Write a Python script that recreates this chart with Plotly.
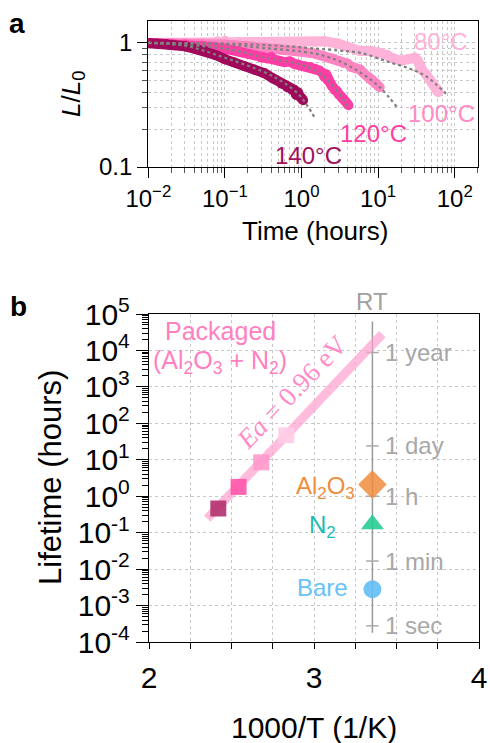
import plotly.graph_objects as go
import math

W, H = 490, 743

# ---------------- Panel a data ----------------
t140 = [0.01, 0.013, 0.017, 0.022, 0.03, 0.04, 0.055, 0.075, 0.1, 0.13, 0.18, 0.24, 0.33, 0.42, 0.55, 0.65, 0.75, 0.8, 0.85, 0.9, 0.95, 1.0, 1.05]
L140 = [1.0, 0.99, 0.98, 0.96, 0.94, 0.9, 0.86, 0.8, 0.74, 0.7, 0.65, 0.61, 0.57, 0.52, 0.47, 0.44, 0.42, 0.42, 0.38, 0.4, 0.37, 0.36, 0.345]

t120 = [0.01, 0.015, 0.02, 0.03, 0.05, 0.07, 0.1, 0.15, 0.2, 0.3, 0.35, 0.4, 0.5, 0.6, 0.7, 0.8, 0.9, 1.1, 1.3, 1.5, 1.7, 1.9, 2.0, 2.1, 2.2, 2.4, 2.5, 2.7, 2.9, 3.1, 3.4, 3.7, 4.1]
L120 = [1.0, 0.99, 0.98, 0.97, 0.95, 0.93, 0.9, 0.86, 0.82, 0.76, 0.75, 0.77, 0.72, 0.7, 0.71, 0.68, 0.67, 0.65, 0.64, 0.62, 0.6, 0.57, 0.53, 0.56, 0.5, 0.47, 0.45, 0.42, 0.41, 0.38, 0.36, 0.34, 0.315]

t100 = [0.01, 0.02, 0.03, 0.05, 0.1, 0.2, 0.33, 0.5, 0.8, 1.0, 1.5, 2.0, 2.5, 3.0, 3.5, 4.0, 4.5, 5.0, 5.8, 6.5, 7.5, 8.5, 9.5, 10.5]
L100 = [1.0, 1.0, 0.99, 0.99, 0.97, 0.94, 0.92, 0.9, 0.87, 0.85, 0.82, 0.78, 0.75, 0.72, 0.69, 0.68, 0.64, 0.63, 0.61, 0.57, 0.53, 0.5, 0.47, 0.44]

t80 = [0.01, 0.02, 0.05, 0.08, 0.1, 0.15, 0.2, 0.3, 0.5, 1, 1.5, 2, 3, 4, 5.8, 8, 10, 13, 15.7, 20, 25, 30, 33, 35, 38, 43, 48, 53, 58, 61]
L80 = [1.0, 1.0, 1.0, 1.03, 1.04, 1.02, 1.01, 1.01, 1.0, 1.0, 1.02, 1.03, 0.99, 0.93, 0.86, 0.86, 0.84, 0.8, 0.75, 0.72, 0.74, 0.76, 0.72, 0.64, 0.6, 0.55, 0.5, 0.47, 0.43, 0.4]

# stretched-exponential fits (gray dotted)
fit140_t = [0.01, 0.03, 0.1, 0.33, 0.55, 0.9, 1.2, 1.5]
fit140_L = [1.0, 0.95, 0.76, 0.58, 0.49, 0.39, 0.31, 0.247]
fit120_t = [0.01, 0.1, 0.33, 0.9, 1.5, 2.0, 2.5, 3.3, 4.3]
fit120_L = [1.0, 0.9, 0.76, 0.68, 0.6, 0.53, 0.46, 0.37, 0.29]
fit100_t = [0.01, 0.1, 0.33, 1.5, 3, 5.8, 10.5, 17.5]
fit100_L = [1.0, 0.97, 0.91, 0.82, 0.72, 0.58, 0.44, 0.306]
fit80_t = [0.01, 0.1, 0.5, 1, 3, 6, 13, 26, 43, 80]
fit80_L = [1.0, 0.99, 0.95, 0.92, 0.87, 0.83, 0.71, 0.62, 0.535, 0.38]

temps_a = ["80°C", "100°C", "120°C", "140°C"]
colors_a = ["#FFB3D9", "#FF85C2", "#FF3EA5", "#A00A5A"]
label_colors_a = ["#FFB3D9", "#FF8CC6", "#FF3EA5", "#A3105E"]

# ---------------- Panel b data ----------------
inv_T = [2.420, 2.543, 2.680, 2.832]          # 1000/T for 140,120,100,80 °C
lifetime = [0.46, 1.8, 8.5, 47]
sq_colors = ["#B3306F", "#FF55AA", "#FF99CC", "#FFCCE6"]
fit_x = [2.353, 3.414]
fit_y = [0.245, 2.8e4]

rt_x = 3.354
rt_line_y = [6.2e4, 1.8e-4]
al2o3_y = 2.1
n2_y = 0.17
bare_y = 0.0028

time_labels = ["1 year", "1 day", "1 h", "1 min", "1 sec"]
time_hours = [8760, 24, 1, 1 / 60, 1 / 3600]

ytick_vals_b = [1e-4, 1e-3, 1e-2, 1e-1, 1, 10, 100, 1e3, 1e4, 1e5]
ytick_text_b = ["10<sup>-4</sup>", "10<sup>-3</sup>", "10<sup>-2</sup>", "10<sup>-1</sup>", "10<sup>0</sup>",
                "10<sup>1</sup>", "10<sup>2</sup>", "10<sup>3</sup>", "10<sup>4</sup>", "10<sup>5</sup>"]
xtick_vals_a = [0.01, 0.1, 1, 10, 100]
xtick_text_a = ["10<sup>−2</sup>", "10<sup>−1</sup>", "10<sup>0</sup>", "10<sup>1</sup>", "10<sup>2</sup>"]

FONT = "Liberation Sans, Arial, sans-serif"
GRID = "#c8c8c8"

fig = go.Figure()

# panel a curves
for t, L, c in [(t80, L80, colors_a[0]), (t100, L100, colors_a[1]), (t120, L120, colors_a[2]), (t140, L140, colors_a[3])]:
    fig.add_trace(go.Scatter(x=t, y=L, mode="lines+markers", line=dict(color=c, width=10),
                             marker=dict(color=c, size=10), xaxis="x", yaxis="y", showlegend=False))
for t, L in [(fit80_t, fit80_L), (fit100_t, fit100_L), (fit120_t, fit120_L), (fit140_t, fit140_L)]:
    fig.add_trace(go.Scatter(x=t, y=L, mode="lines", line=dict(color="#808080", width=2.2, dash="dot", shape="spline"),
                             xaxis="x", yaxis="y", showlegend=False))

# panel b
fig.add_trace(go.Scatter(x=[rt_x, rt_x], y=rt_line_y, mode="lines", line=dict(color="#9a9a9a", width=1.5),
                         xaxis="x2", yaxis="y2", showlegend=False))
fig.add_trace(go.Scatter(x=[rt_x] * len(time_hours), y=time_hours, mode="markers",
                         marker=dict(symbol="line-ew", size=9, line=dict(color="#aaaaaa", width=1.5)),
                         xaxis="x2", yaxis="y2", showlegend=False))
fig.add_trace(go.Scatter(x=fit_x, y=fit_y, mode="lines", line=dict(color="rgba(255,160,205,0.7)", width=9),
                         xaxis="x2", yaxis="y2", showlegend=False))
fig.add_trace(go.Scatter(x=inv_T, y=lifetime, mode="markers",
                         marker=dict(symbol="square", size=16, color=sq_colors, opacity=0.9),
                         xaxis="x2", yaxis="y2", showlegend=False))
fig.add_trace(go.Scatter(x=[rt_x], y=[al2o3_y], mode="markers",
                         marker=dict(symbol="diamond", size=22, color="rgba(240,140,60,0.85)"),
                         xaxis="x2", yaxis="y2", showlegend=False))
fig.add_trace(go.Scatter(x=[rt_x], y=[n2_y], mode="markers",
                         marker=dict(symbol="triangle-up", size=20, color="rgba(40,205,145,0.9)"),
                         xaxis="x2", yaxis="y2", showlegend=False))
fig.add_trace(go.Scatter(x=[rt_x], y=[bare_y], mode="markers",
                         marker=dict(symbol="circle", size=18, color="rgba(100,190,245,0.9)"),
                         xaxis="x2", yaxis="y2", showlegend=False))


def P(xp, yp):
    return xp / W, 1 - yp / H


ann = []


def text(s, xp, yp, size, color="black", angle=0, xanchor="center", yanchor="middle", family=FONT):
    x, y = P(xp, yp)
    ann.append(dict(text=s, x=x, y=y, xref="paper", yref="paper", showarrow=False, textangle=angle,
                    xanchor=xanchor, yanchor=yanchor, font=dict(size=size, color=color, family=family)))


text("<b>a</b>", 17, 24, 28)
text("<b>b</b>", 18, 306, 28)
text("<i>L</i>/<i>L</i><sub>0</sub>", 72, 94, 26, angle=-90)
text("Time (hours)", 315, 231, 26)
text("1000/T (1/K)", 314, 727, 30)
text("Lifetime (hours)", 50, 478, 31, angle=-90)

pos_a = [(441, 42), (441, 113), (373, 133), (308, 155)]
for s, (xp, yp), c in zip(temps_a, pos_a, label_colors_a):
    text(s, xp, yp, 24, color=c)

text("Packaged", 220, 331, 25, color="#FF7FC0")
text("(Al<sub>2</sub>O<sub>3</sub> + N<sub>2</sub>)", 220, 362, 25, color="#FF7FC0")
text("<i>Ea</i> = 0.96 eV", 292, 392, 27, color="#FF8CC8", angle=-46, family="Liberation Serif, DejaVu Serif, serif")
text("RT", 372, 302, 24, color="#a0a0a0")
text("Al<sub>2</sub>O<sub>3</sub>", 357, 487, 24, color="#F08C3C", xanchor="right")
text("N<sub>2</sub>", 338, 526, 24, color="#1ABDB5", xanchor="right")
text("Bare", 350, 587, 24, color="#66C2F7", xanchor="right")

for lab, hv in zip(time_labels, time_hours):
    yp = 314 + (5 - math.log10(hv)) * (642 - 314) / 9
    text(lab, 383, yp, 24, color="#a8a8a8", xanchor="left")

fig.update_layout(annotations=ann)

axis_common = dict(showline=True, linecolor="black", linewidth=1.4, mirror=True, ticks="outside",
                   tickcolor="black", tickwidth=1.2, zeroline=False, color="black", automargin=False)

fig.update_layout(
    width=W, height=H, margin=dict(l=0, r=0, t=0, b=0),
    paper_bgcolor="white", plot_bgcolor="white",
    font=dict(family=FONT, color="black"),
    xaxis=dict(axis_common, type="log", range=[-2, 2.304], domain=[148.3 / W, 478 / W], anchor="y",
               tickmode="array", tickvals=xtick_vals_a, ticktext=xtick_text_a, ticklen=10,
               tickfont=dict(size=24), showgrid=True, gridcolor=GRID, griddash="dot", gridwidth=1,
               minor=dict(ticks="outside", ticklen=5, tickcolor="#555", dtick="D1", showgrid=True,
                          gridcolor=GRID, griddash="dot", gridwidth=1)),
    yaxis=dict(axis_common, type="log", range=[-1, 0.177], domain=[1 - 167 / H, 1 - 21 / H], anchor="x",
               tickmode="array", tickvals=[0.1, 1], ticktext=["0.1", "1"], ticklen=10,
               tickfont=dict(size=24), showgrid=True, gridcolor=GRID, griddash="dot", gridwidth=1,
               minor=dict(ticks="outside", ticklen=5, tickcolor="#555", dtick="D1", showgrid=True,
                          gridcolor=GRID, griddash="dot", gridwidth=1)),
    xaxis2=dict(axis_common, range=[2, 4], domain=[149 / W, 479 / W], anchor="y2",
                tick0=2, dtick=1, ticklen=6, tickfont=dict(size=30), ticklabelstandoff=3,
                showgrid=True, gridcolor=GRID, griddash="dot", gridwidth=1,
                minor=dict(ticks="outside", ticklen=6, dtick=0.25, tick0=2, showgrid=True,
                           gridcolor=GRID, griddash="dot", gridwidth=1)),
    yaxis2=dict(axis_common, type="log", range=[-4, 5], domain=[1 - 642 / H, 1 - 314 / H], anchor="x2",
                tickmode="array", tickvals=ytick_vals_b, ticktext=ytick_text_b, ticklen=12,
                tickfont=dict(size=30), showgrid=True, gridcolor=GRID, griddash="dot", gridwidth=1,
                minor=dict(ticks="outside", ticklen=6, dtick="D1", showgrid=False)),
)

fig.write_html("out.html", config={"displayModeBar": False},
               post_script="document.body.style.margin='0';document.body.style.overflow='hidden';")
